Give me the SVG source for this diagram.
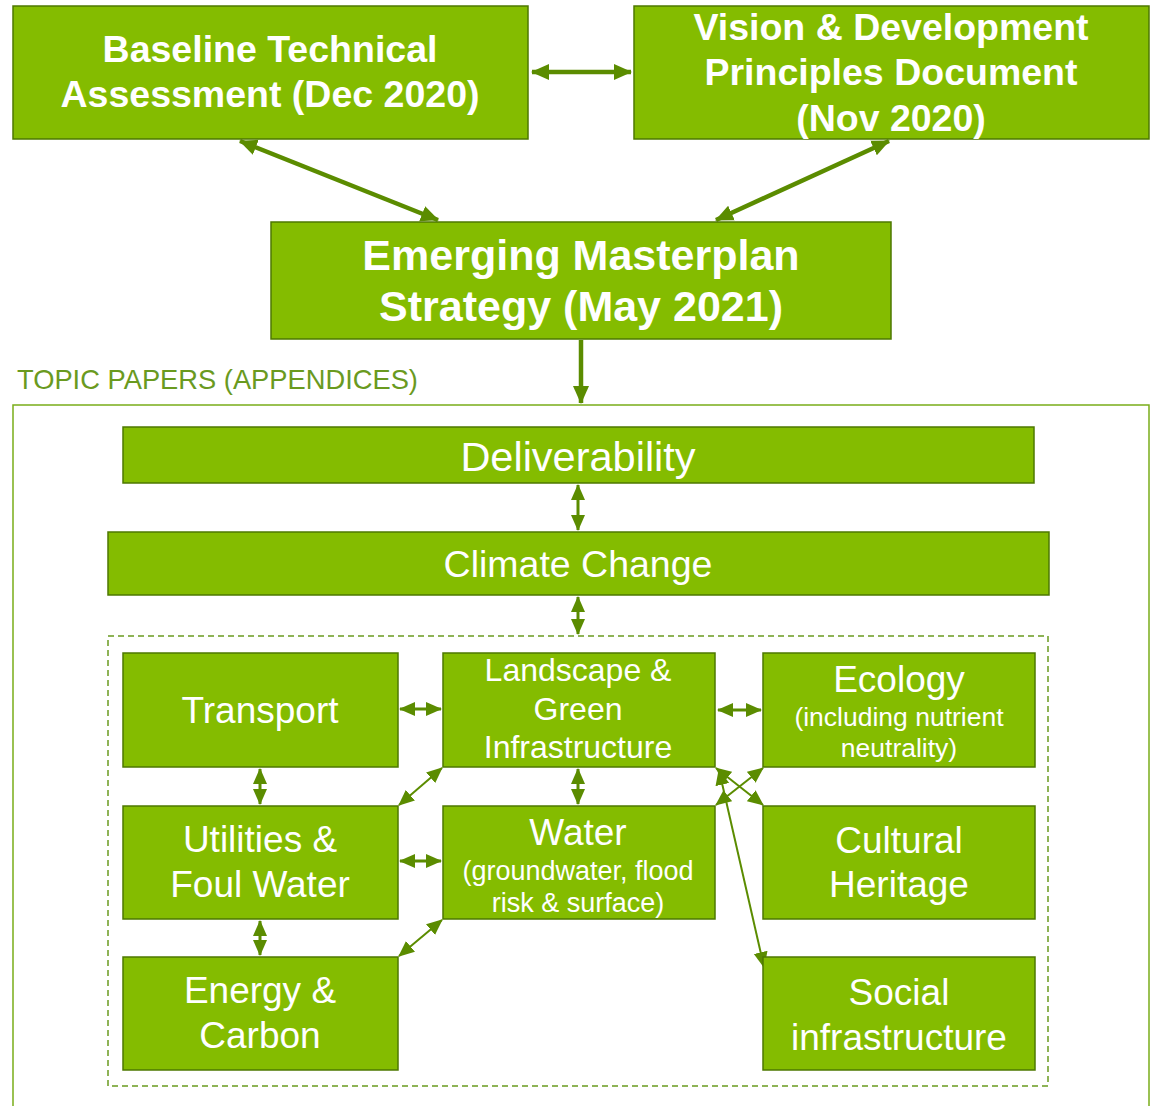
<svg xmlns="http://www.w3.org/2000/svg" width="1153" height="1106" viewBox="0 0 1153 1106">
<style>
.box{fill:#84bc00;stroke:#4d7800;stroke-width:1.5}
.t{font-family:"Liberation Sans",Arial,sans-serif;fill:#ffffff;text-anchor:middle}
.b{font-weight:bold}
.c{stroke:#5b8c00;fill:none}
.thick{stroke-width:4.5}
.mid{stroke-width:3}
.thin{stroke-width:2}
</style>
<defs>
<marker id="ah" markerUnits="userSpaceOnUse" markerWidth="18" markerHeight="18" refX="17" refY="9" orient="auto-start-reverse" viewBox="0 0 18 18">
<path d="M0,1 L18,9 L0,17 z" fill="#5b8c00"/>
</marker>
<marker id="as" markerUnits="userSpaceOnUse" markerWidth="16" markerHeight="16" refX="15" refY="8" orient="auto-start-reverse" viewBox="0 0 16 16">
<path d="M0,1 L16,8 L0,15 z" fill="#5b8c00"/>
</marker>
</defs>
<rect width="1153" height="1106" fill="#ffffff"/>

<g id="connectors">
<line class="c thick" x1="532" y1="72" x2="631" y2="72" marker-start="url(#ah)" marker-end="url(#ah)"/>
<line class="c thick" x1="240" y1="141" x2="438" y2="220" marker-start="url(#ah)" marker-end="url(#ah)"/>
<line class="c thick" x1="889" y1="141" x2="716" y2="220" marker-start="url(#ah)" marker-end="url(#ah)"/>
<line class="c thick" x1="581" y1="340" x2="581" y2="403" marker-end="url(#ah)"/>
<line class="c mid" x1="578" y1="485" x2="578" y2="530" marker-start="url(#as)" marker-end="url(#as)"/>
<line class="c mid" x1="578" y1="597" x2="578" y2="634" marker-start="url(#as)" marker-end="url(#as)"/>
<line class="c mid" x1="400" y1="709" x2="441" y2="709" marker-start="url(#as)" marker-end="url(#as)"/>
<line class="c mid" x1="718" y1="710" x2="761" y2="710" marker-start="url(#as)" marker-end="url(#as)"/>
<line class="c mid" x1="260" y1="769" x2="260" y2="804" marker-start="url(#as)" marker-end="url(#as)"/>
<line class="c mid" x1="578" y1="769" x2="578" y2="804" marker-start="url(#as)" marker-end="url(#as)"/>
<line class="c mid" x1="400" y1="861" x2="441" y2="861" marker-start="url(#as)" marker-end="url(#as)"/>
<line class="c mid" x1="260" y1="921" x2="260" y2="955" marker-start="url(#as)" marker-end="url(#as)"/>
<line class="c thin" x1="442" y1="768" x2="399" y2="805" marker-start="url(#as)" marker-end="url(#as)"/>
<line class="c thin" x1="442" y1="920" x2="399" y2="956" marker-start="url(#as)" marker-end="url(#as)"/>
<line class="c thin" x1="716" y1="768" x2="763" y2="805" marker-start="url(#as)" marker-end="url(#as)"/>
<line class="c thin" x1="716" y1="805" x2="763" y2="768" marker-start="url(#as)" marker-end="url(#as)"/>
<line class="c thin" x1="719" y1="770" x2="764" y2="967" marker-start="url(#as)" marker-end="url(#as)"/>
</g>

<g id="baseline">
<rect class="box" x="13" y="6" width="515" height="133"/>
<text class="t b" x="270" y="62" font-size="37.5">Baseline Technical</text>
<text class="t b" x="270" y="107" font-size="37.5">Assessment (Dec 2020)</text>
</g>
<g id="vision">
<rect class="box" x="634" y="6" width="515" height="133"/>
<text class="t b" x="891" y="40" font-size="37.5">Vision &amp; Development</text>
<text class="t b" x="891" y="85" font-size="37.5">Principles Document</text>
<text class="t b" x="891" y="131" font-size="37.5">(Nov 2020)</text>
</g>
<g id="emerging">
<rect class="box" x="271" y="222" width="620" height="117"/>
<text class="t b" x="581" y="270" font-size="43">Emerging Masterplan</text>
<text class="t b" x="581" y="321" font-size="43">Strategy (May 2021)</text>
</g>

<g id="topic-papers">
<text x="17" y="389" font-family="Liberation Sans, Arial, sans-serif" font-size="27.3" fill="#6a9a1f">TOPIC PAPERS (APPENDICES)</text>
<rect x="13" y="405" width="1136" height="720" fill="none" stroke="#7aad1a" stroke-width="1.5"/>
</g>

<g id="deliverability">
<rect class="box" x="123" y="427" width="911" height="56"/>
<text class="t" x="578" y="471" font-size="41.5">Deliverability</text>
</g>
<g id="climate">
<rect class="box" x="108" y="532" width="941" height="63"/>
<text class="t" x="578" y="577" font-size="37.5">Climate Change</text>
</g>

<g id="topics-group">
<rect x="108" y="636" width="940" height="450" fill="none" stroke="#6a9a1f" stroke-width="1.5" stroke-dasharray="6,4"/>
</g>

<g id="transport">
<rect class="box" x="123" y="653" width="275" height="114"/>
<text class="t" x="260" y="723" font-size="37">Transport</text>
</g>
<g id="landscape">
<rect class="box" x="443" y="653" width="272" height="114"/>
<text class="t" x="578" y="681" font-size="32">Landscape &amp;</text>
<text class="t" x="578" y="720" font-size="32">Green</text>
<text class="t" x="578" y="758" font-size="32">Infrastructure</text>
</g>
<g id="ecology">
<rect class="box" x="763" y="653" width="272" height="114"/>
<text class="t" x="899" y="692" font-size="37">Ecology</text>
<text class="t" x="899" y="726" font-size="26.5">(including nutrient</text>
<text class="t" x="899" y="757" font-size="26.5">neutrality)</text>
</g>
<g id="utilities">
<rect class="box" x="123" y="806" width="275" height="113"/>
<text class="t" x="260" y="852" font-size="37">Utilities &amp;</text>
<text class="t" x="260" y="897" font-size="37">Foul Water</text>
</g>
<g id="water">
<rect class="box" x="443" y="806" width="272" height="113"/>
<text class="t" x="578" y="845" font-size="37">Water</text>
<text class="t" x="578" y="880" font-size="27">(groundwater, flood</text>
<text class="t" x="578" y="912" font-size="27">risk &amp; surface)</text>
</g>
<g id="cultural">
<rect class="box" x="763" y="806" width="272" height="113"/>
<text class="t" x="899" y="853" font-size="37">Cultural</text>
<text class="t" x="899" y="897" font-size="37">Heritage</text>
</g>
<g id="energy">
<rect class="box" x="123" y="957" width="275" height="113"/>
<text class="t" x="260" y="1003" font-size="37">Energy &amp;</text>
<text class="t" x="260" y="1048" font-size="37">Carbon</text>
</g>
<g id="social">
<rect class="box" x="763" y="957" width="272" height="113"/>
<text class="t" x="899" y="1005" font-size="37">Social</text>
<text class="t" x="899" y="1050" font-size="37">infrastructure</text>
</g>
</svg>
